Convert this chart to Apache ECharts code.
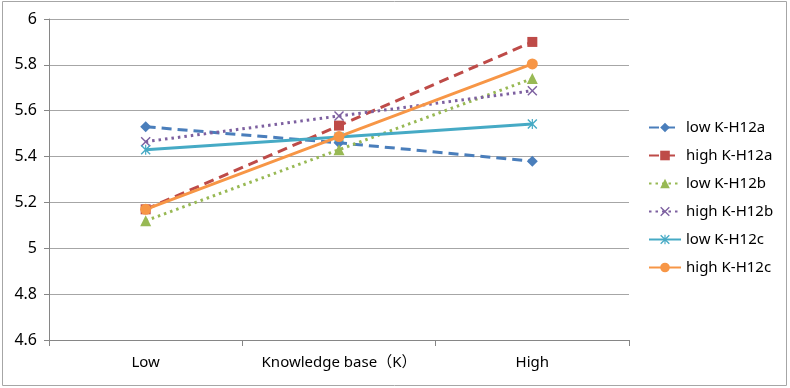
<!DOCTYPE html>
<html>
<head>
<meta charset="utf-8">
<script src="https://cdn.jsdelivr.net/npm/echarts@6/dist/echarts.min.js"></script>
<style>
  html, body { margin: 0; padding: 0; background: #fff; }
  #chart { width: 790px; height: 388px; }
</style>
</head>
<body>
<div id="chart"></div>
<script>
const categories = ["Low", "Knowledge base（K）", "High"];

const lowH12a = [5.53, 5.46, 5.38];
const highH12a = [5.17, 5.535, 5.9];
const lowH12b = [5.12, 5.43, 5.74];
const highH12b = [5.465, 5.577, 5.687];
const lowH12c = [5.43, 5.485, 5.542];
const highH12c = [5.17, 5.487, 5.804];

const FONT = "'Noto Sans', 'Noto Sans CJK SC', sans-serif";

const X_PATH = "path://M0,1L1,0L5,4L9,0L10,1L6,5L10,9L9,10L5,6L1,10L0,9L4,5Z";
const STAR_PATH =
  "path://M0,1L1,0L5,4L9,0L10,1L6,5L10,9L9,10L5,6L1,10L0,9L4,5Z M4.4,0L5.6,0L5.6,10L4.4,10Z";

function makeSeries(name, data, color, type, symbol, symbolSize) {
  return {
    name: name,
    type: "line",
    data: data,
    symbol: symbol,
    symbolSize: symbolSize,
    showAllSymbol: true,
    itemStyle: { color: color },
    lineStyle: {
      color: color,
      width: 3,
      type: type,
    },
    emphasis: { disabled: true },
    animation: false,
  };
}

const chart = echarts.init(document.getElementById("chart"));

chart.setOption({
  backgroundColor: "#fff",
  animation: false,
  textStyle: { fontFamily: FONT },
  grid: {
    left: 49,
    right: 161,
    top: 19,
    bottom: 48,
  },
  graphic: [
    {
      type: "rect",
      shape: { x: 2.5, y: 1.5, width: 784, height: 384 },
      style: { fill: "none", stroke: "#a6a6a6", lineWidth: 1 },
      silent: true,
    },
  ],
  xAxis: {
    type: "category",
    data: categories,
    boundaryGap: true,
    axisLine: { lineStyle: { color: "#868686", width: 1 } },
    axisTick: {
      show: true,
      alignWithLabel: false,
      length: 6,
      lineStyle: { color: "#868686" },
    },
    axisLabel: {
      interval: 0,
      hideOverlap: false,
      color: "#000",
      fontSize: 15,
      fontFamily: FONT,
      margin: 15,
    },
    splitLine: { show: false },
  },
  yAxis: {
    type: "value",
    min: 4.6,
    max: 6,
    interval: 0.2,
    axisLine: { show: true, lineStyle: { color: "#868686", width: 1 } },
    axisTick: { show: true, length: 5, lineStyle: { color: "#868686" } },
    axisLabel: {
      color: "#000",
      fontSize: 16,
      fontFamily: FONT,
      margin: 12,
      formatter: (v) => String(Math.round(v * 10) / 10),
    },
    splitLine: { show: true, lineStyle: { color: "#a6a6a6", width: 1 } },
  },
  legend: {
    orient: "vertical",
    left: 643,
    top: 115,
    itemWidth: 32,
    itemHeight: 12,
    itemGap: 13,
    textStyle: { color: "#000", fontSize: 15, fontFamily: FONT },
    data: [
      "low K-H12a",
      "high K-H12a",
      "low K-H12b",
      "high K-H12b",
      "low K-H12c",
      "high K-H12c",
    ],
  },
  series: [
    makeSeries("low K-H12a", lowH12a, "#4a7ebb", [10, 6], "diamond", 11),
    makeSeries("high K-H12a", highH12a, "#be4b48", [10, 6], "rect", 10),
    makeSeries("low K-H12b", lowH12b, "#98b954", [2.5, 4], "triangle", 11),
    makeSeries("high K-H12b", highH12b, "#7d60a0", [2.5, 4], X_PATH, 10),
    makeSeries("low K-H12c", lowH12c, "#46aac5", "solid", STAR_PATH, 10),
    makeSeries("high K-H12c", highH12c, "#f79646", "solid", "circle", 11),
  ],
});
</script>
</body>
</html>
